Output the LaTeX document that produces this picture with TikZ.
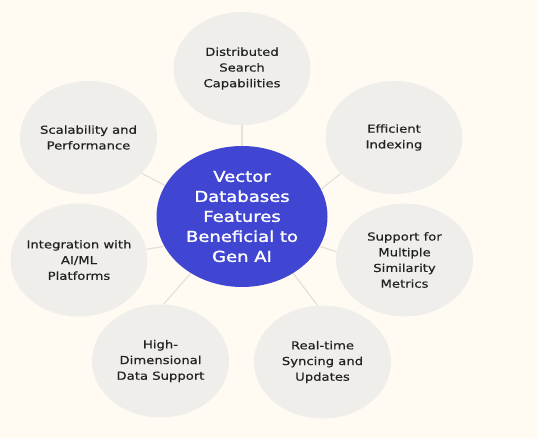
\documentclass[tikz,border=0pt]{standalone}
\usepackage{fontspec}
\setmainfont{DejaVu Sans}[FakeStretch=1.2,FakeBold=0.5]
\newfontfamily\hubfont{DejaVu Sans}[FakeStretch=1.2,FakeBold=1.6]
\usetikzlibrary{shapes.geometric,backgrounds}
\definecolor{bgcream}{HTML}{FFFBF3}
\definecolor{satfill}{HTML}{EFEEEA}
\definecolor{hubblue}{HTML}{4046D2}
\definecolor{connc}{HTML}{E4E1DA}
\definecolor{ink}{HTML}{222222}
\begin{document}
\begin{tikzpicture}[x=1pt,y=-1pt,
  sat/.style={ellipse, fill=satfill, minimum width=137pt, minimum height=113pt, inner sep=0pt},
  sattext/.style={align=center, font=\fontsize{11}{15.7}\selectfont, text=ink, inner sep=0pt},
  hub/.style={ellipse, fill=hubblue, minimum width=171pt, minimum height=141pt, inner sep=0pt},
  hubtext/.style={align=center, font=\hubfont\fontsize{15}{20}\selectfont, text=white, inner sep=0pt},
  conn/.style={draw=connc, line width=1.2pt}]
\useasboundingbox (0,0) rectangle (538,438);
% hub
\node[hub] (hub) at (242,216.5) {};
\node[hubtext] (hubt) at (hub.center) {Vector\\Databases\\Features\\Beneficial to\\Gen AI};
% satellites
\node[sat] (dist) at (242,68.5) {};
\node[sattext] (distt) at (dist.center) {Distributed\\Search\\Capabilities};
\node[sat] (eff) at (394,137.5) {};
\node[sattext] (efft) at (eff.center) {Efficient\\Indexing};
\node[sat] (sup) at (404.5,260) {};
\node[sattext] (supt) at (sup.center) {Support for\\Multiple\\Similarity\\Metrics};
\node[sat] (real) at (322.5,362) {};
\node[sattext] (realt) at (real.center) {Real-time\\Syncing and\\Updates};
\node[sat] (high) at (160.5,361) {};
\node[sattext] (hight) at (high.center) {High-\\Dimensional\\Data Support};
\node[sat] (integ) at (79,260) {};
\node[sattext] (integt) at (integ.center) {Integration with\\AI/ML\\Platforms};
\node[sat] (scal) at (88.5,137.5) {};
\node[sattext] (scalt) at (scal.center) {Scalability and\\Performance};
\begin{pgfonlayer}{background}
\fill[bgcream] (0,0) rectangle (538,438);
\draw[conn] (hub.90) -- (dist.-90);
\draw[conn] (hub.19) -- (eff.-146);
\draw[conn] (hub.-21) -- (sup.173);
\draw[conn] (hub.-48) -- (real.95);
\draw[conn] (hub.-132) -- (high.87);
\draw[conn] (hub.-159) -- (integ.9);
\draw[conn] (hub.158) -- (scal.-34);
\end{pgfonlayer}
\end{tikzpicture}
\end{document}
